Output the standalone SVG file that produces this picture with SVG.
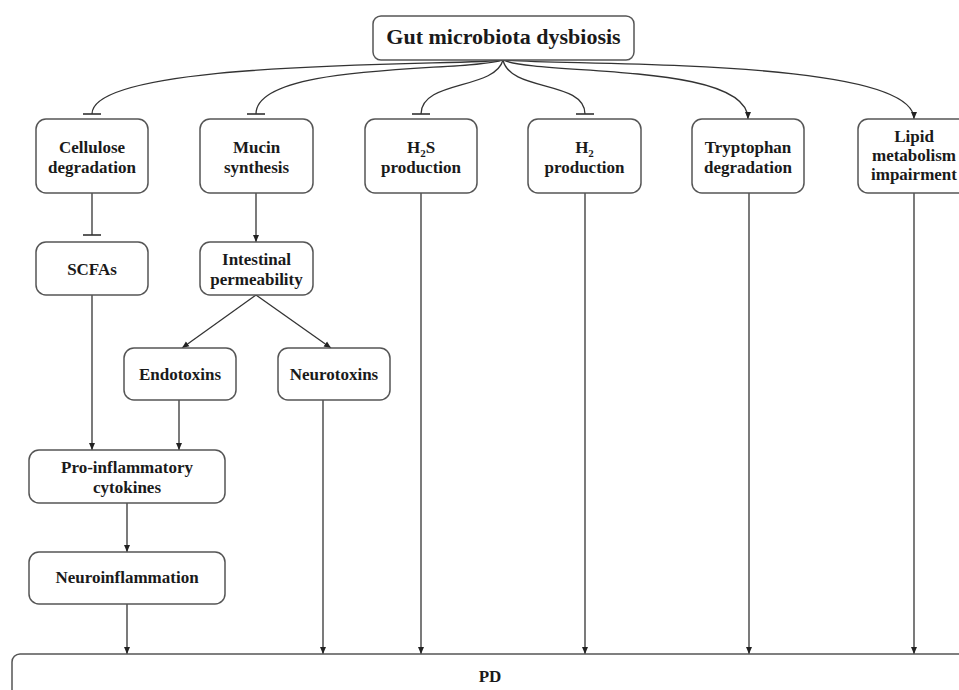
<svg xmlns="http://www.w3.org/2000/svg" width="959" height="690" viewBox="0 0 959 690">
<defs>
<marker id="arrow" markerUnits="userSpaceOnUse" markerWidth="8" markerHeight="8" viewBox="0 0 8 8" refX="7" refY="4" orient="auto">
<path d="M0,1 L7,4 L0,7 Z" fill="#222"/>
</marker>
<marker id="bar" markerUnits="userSpaceOnUse" markerWidth="4" markerHeight="22" viewBox="0 0 4 22" refX="2" refY="11" orient="auto">
<line x1="2" y1="2" x2="2" y2="20" stroke="#333" stroke-width="1.6"/>
</marker>
<style>
.box{fill:#fff;stroke:#555;stroke-width:1.5}
.t{font-family:"Liberation Serif","Times New Roman",serif;font-weight:bold;font-size:17px;fill:#1a1a1a;text-anchor:middle}
.title{font-size:22px}
.e{fill:none;stroke:#333;stroke-width:1.3}
.a{marker-end:url(#arrow)}
.i{marker-end:url(#bar)}
.sub{font-size:11px}
</style>
</defs>
<rect width="959" height="690" fill="#fff"/>

<g id="connectors">
<path class="e i" d="M503,60 C470,66 92,58 92,114"/>
<path class="e i" d="M503,60 C470,72 256,62 256,114"/>
<path class="e i" d="M503,60 C495,90 421,80 421,114"/>
<path class="e i" d="M503,60 C510,92 585,80 585,114"/>
<path class="e a" d="M503,60 C540,76 748,62 748,119"/>
<path class="e a" d="M503,60 C580,66 914,58 914,119"/>
<path class="e i" d="M92,193 L92,235"/>
<path class="e a" d="M256,193 L256,242"/>
<path class="e a" d="M256,295 L182,348"/>
<path class="e a" d="M256,295 L331,348"/>
<path class="e a" d="M92,295 L92,450"/>
<path class="e a" d="M179,400 L179,450"/>
<path class="e a" d="M127,503 L127,552"/>
<path class="e a" d="M127,604 L127,654"/>
<path class="e a" d="M323,400 L323,654"/>
<path class="e a" d="M421,193 L421,654"/>
<path class="e a" d="M585,193 L585,654"/>
<path class="e a" d="M749,193 L749,654"/>
<path class="e a" d="M914,193 L914,654"/>
</g>

<g id="gut">
<rect class="box" x="373" y="16" width="261" height="44" rx="8"/>
<text class="t title" x="503.5" y="44">Gut microbiota dysbiosis</text>
</g>
<g id="cellulose">
<rect class="box" x="36" y="119" width="112" height="74" rx="10"/>
<text class="t" x="92" y="153">Cellulose</text>
<text class="t" x="92" y="173">degradation</text>
</g>
<g id="mucin">
<rect class="box" x="200" y="119" width="113" height="74" rx="10"/>
<text class="t" x="256.5" y="153">Mucin</text>
<text class="t" x="256.5" y="173">synthesis</text>
</g>
<g id="h2s">
<rect class="box" x="365" y="119" width="112" height="74" rx="10"/>
<text class="t" x="421" y="153">H<tspan class="sub" dy="4">2</tspan><tspan dy="-4">S</tspan></text>
<text class="t" x="421" y="173">production</text>
</g>
<g id="h2">
<rect class="box" x="528" y="119" width="113" height="74" rx="10"/>
<text class="t" x="584.5" y="153">H<tspan class="sub" dy="4">2</tspan></text>
<text class="t" x="584.5" y="173">production</text>
</g>
<g id="tryptophan">
<rect class="box" x="692" y="119" width="112" height="74" rx="10"/>
<text class="t" x="748" y="153">Tryptophan</text>
<text class="t" x="748" y="173">degradation</text>
</g>
<g id="lipid">
<rect class="box" x="858" y="119" width="112" height="74" rx="10"/>
<text class="t" x="914" y="142">Lipid</text>
<text class="t" x="914" y="161">metabolism</text>
<text class="t" x="914" y="180">impairment</text>
</g>
<g id="scfas">
<rect class="box" x="36" y="242" width="112" height="53" rx="10"/>
<text class="t" x="92" y="275">SCFAs</text>
</g>
<g id="permeability">
<rect class="box" x="200" y="242" width="113" height="53" rx="10"/>
<text class="t" x="256.5" y="265">Intestinal</text>
<text class="t" x="256.5" y="285">permeability</text>
</g>
<g id="endotoxins">
<rect class="box" x="124" y="348" width="112" height="52" rx="10"/>
<text class="t" x="180" y="380">Endotoxins</text>
</g>
<g id="neurotoxins">
<rect class="box" x="278" y="348" width="112" height="52" rx="10"/>
<text class="t" x="334" y="380">Neurotoxins</text>
</g>
<g id="cytokines">
<rect class="box" x="29" y="450" width="196" height="53" rx="10"/>
<text class="t" x="127" y="473">Pro-inflammatory</text>
<text class="t" x="127" y="493">cytokines</text>
</g>
<g id="neuroinflammation">
<rect class="box" x="29" y="552" width="196" height="52" rx="10"/>
<text class="t" x="127" y="583">Neuroinflammation</text>
</g>
<g id="pd">
<rect class="box" x="12" y="654" width="960" height="60" rx="8"/>
<text class="t" x="490" y="682">PD</text>
</g>
</svg>
